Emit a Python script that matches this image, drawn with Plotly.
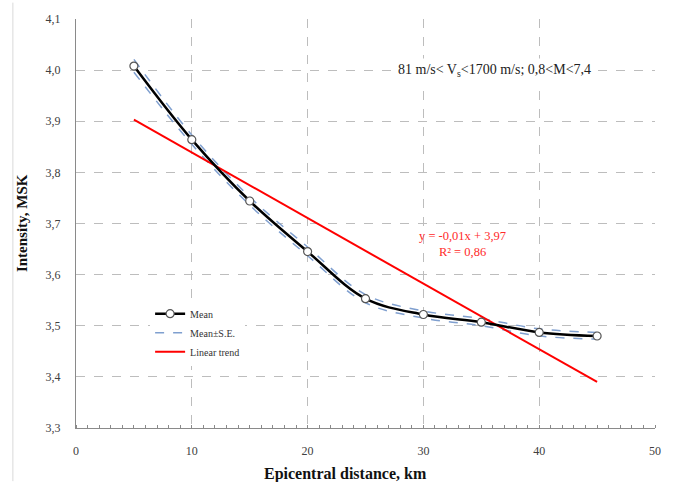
import plotly.graph_objects as go

distance_km = [5, 10, 15, 20, 25, 30, 35, 40, 45]
mean_msk = [4.008, 3.864, 3.744, 3.645, 3.553, 3.522, 3.507, 3.487, 3.480]
mean_plus_se = [4.021, 3.873, 3.752, 3.654, 3.561, 3.529, 3.514, 3.494, 3.487]
mean_minus_se = [3.996, 3.855, 3.736, 3.637, 3.545, 3.515, 3.500, 3.480, 3.474]
trend_x = [5, 45]
trend_y = [3.903, 3.390]

x_ticks = [0, 10, 20, 30, 40, 50]
y_ticks = [3.3, 3.4, 3.5, 3.6, 3.7, 3.8, 3.9, 4.0, 4.1]

SERIF = "Liberation Serif"
SE_COLOR = "#7f9fcf"

fig = go.Figure()

fig.add_trace(go.Scatter(
    x=distance_km, y=mean_plus_se, mode="lines", name="Mean±S.E.",
    line=dict(color=SE_COLOR, width=1.5, dash="dash", shape="spline", smoothing=1),
    legendgroup="se", legendrank=2))
fig.add_trace(go.Scatter(
    x=distance_km, y=mean_minus_se, mode="lines", name="Mean±S.E.",
    line=dict(color=SE_COLOR, width=1.5, dash="dash", shape="spline", smoothing=1),
    legendgroup="se", showlegend=False))
fig.add_trace(go.Scatter(
    x=trend_x, y=trend_y, mode="lines", name="Linear trend",
    line=dict(color="#ff0000", width=2), legendrank=3))
fig.add_trace(go.Scatter(
    x=distance_km, y=mean_msk, mode="lines+markers", name="Mean",
    line=dict(color="#000000", width=2.5, shape="spline", smoothing=1),
    marker=dict(symbol="circle", size=8, color="white",
                line=dict(color="#555555", width=1.2)),
    legendrank=1))

fig.update_layout(
    width=673, height=482,
    margin=dict(l=76, r=18, t=17, b=54),
    paper_bgcolor="white", plot_bgcolor="white",
    separators=", ",
    font=dict(family=SERIF, size=12, color="#333333"),
    showlegend=True,
    legend=dict(
        x=0.128, y=0.315, xanchor="left", yanchor="top",
        bgcolor="white", borderwidth=0,
        font=dict(family=SERIF, size=10, color="#333333"),
        tracegroupgap=0, itemwidth=30,
    ),
    xaxis=dict(
        range=[0, 50], tickvals=x_ticks, showgrid=True,
        gridcolor="#bdbdbd", griddash="dash", gridwidth=1,
        showline=True, linecolor="#8a8a8a", linewidth=1,
        ticks="", ticklabelstandoff=12, zeroline=False,
        tickfont=dict(family=SERIF, size=12, color="#404040"),
        minor=dict(ticks="inside", ticklen=3, dtick=1, tickcolor="#8a8a8a", showgrid=False),
    ),
    yaxis=dict(
        range=[3.3, 4.1], tickvals=y_ticks, tickformat=".1f", showgrid=True,
        gridcolor="#bdbdbd", griddash="dash", gridwidth=1,
        showline=True, linecolor="#8a8a8a", linewidth=1,
        ticks="", ticklabelstandoff=12, zeroline=False,
        tickfont=dict(family=SERIF, size=12, color="#404040"),
    ),
    annotations=[
        dict(text="81 m/s< V<sub>s</sub><1700 m/s; 0,8<M<7,4",
             x=36.1, y=4.0, xref="x", yref="y", showarrow=False,
             font=dict(family=SERIF, size=14, color="#222222"),
             bgcolor="white", borderpad=3),
        dict(text="y = -0,01x + 3,97<br>R² = 0,86",
             x=33.4, y=3.66, xref="x", yref="y", showarrow=False,
             font=dict(family=SERIF, size=12.5, color="#ff2a2a")),
        dict(text="<b>Epicentral distance, km</b>",
             x=0.465, y=-0.085, xref="paper", yref="paper",
             xanchor="center", yanchor="top", showarrow=False,
             font=dict(family=SERIF, size=16, color="#111111")),
        dict(text="<b>Intensity, MSK</b>", textangle=-90,
             x=-0.094, y=0.5, xref="paper", yref="paper",
             xanchor="center", yanchor="middle", showarrow=False,
             font=dict(family=SERIF, size=15, color="#111111")),
    ],
    shapes=[
        dict(type="line", xref="paper", yref="paper",
             x0=-0.109, x1=-0.109, y0=-0.13, y1=1.04,
             line=dict(color="#d9d9d9", width=1)),
    ],
)

fig.write_html("out.html")
